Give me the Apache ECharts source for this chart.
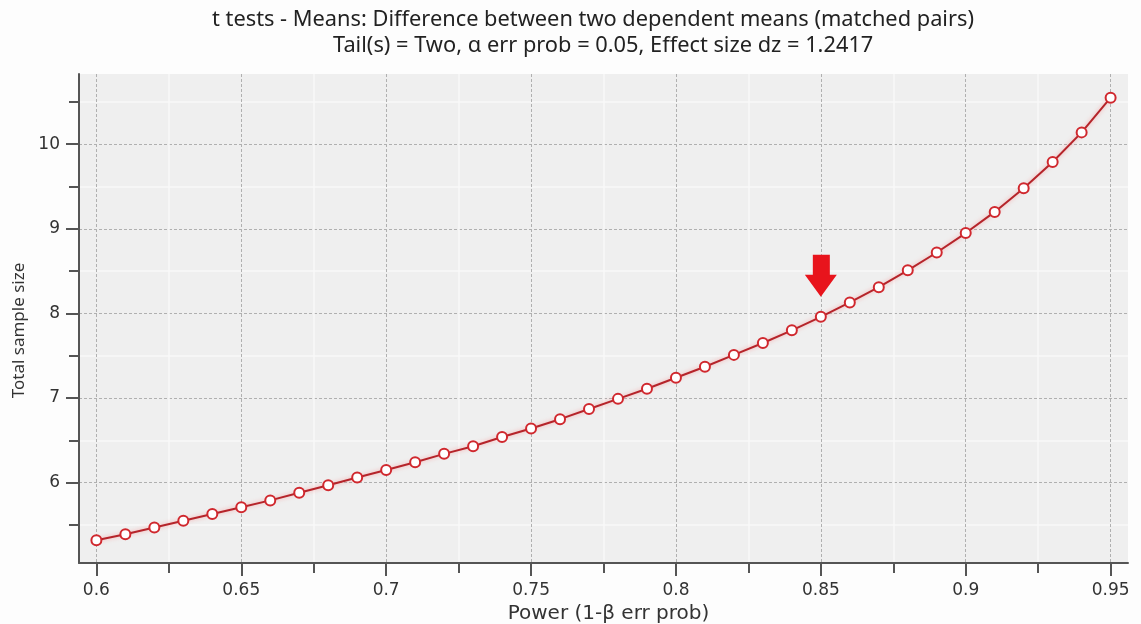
<!DOCTYPE html>
<html>
<head>
<meta charset="utf-8">
<script src="https://cdn.jsdelivr.net/npm/echarts@6/dist/echarts.min.js"></script>
<style>
html,body{margin:0;padding:0;background:#fdfdfd;}
#c{width:1141px;height:624px;}
</style>
</head>
<body>
<div id="c"></div>
<script>
const powers = [0.60,0.61,0.62,0.63,0.64,0.65,0.66,0.67,0.68,0.69,0.70,0.71,0.72,0.73,0.74,0.75,0.76,0.77,0.78,0.79,0.80,0.81,0.82,0.83,0.84,0.85,0.86,0.87,0.88,0.89,0.90,0.91,0.92,0.93,0.94,0.95];
const sampleSizes = [5.32,5.39,5.47,5.55,5.63,5.71,5.79,5.88,5.97,6.06,6.15,6.24,6.34,6.43,6.54,6.64,6.75,6.87,6.99,7.11,7.24,7.37,7.51,7.65,7.80,7.96,8.13,8.31,8.51,8.72,8.95,9.20,9.48,9.79,10.14,10.55];
const xTicks = [0.6,0.65,0.7,0.75,0.8,0.85,0.9,0.95];
const xMinorTicks = [0.625,0.675,0.725,0.775,0.825,0.875,0.925];
const yTicks = [6,7,8,9,10];
const yMinorTicks = [5.5,6.5,7.5,8.5,9.5,10.5];
const highlightPower = 0.85;
const highlightSize = 7.96;
const titleText = 't tests - Means: Difference between two dependent means (matched pairs)';
const subtitleText = 'Tail(s) = Two, \u03b1 err prob = 0.05, Effect size dz = 1.2417';
const xName = 'Power (1-\u03b2 err prob)';
const yName = 'Total sample size';

const X_MIN = 0.594, X_MAX = 0.956, Y_MIN = 5.05, Y_MAX = 10.83;
const labelFont = "'DejaVu Sans', Verdana, sans-serif";
const textFont = "'Noto Sans', 'Open Sans', sans-serif";

const chart = echarts.init(document.getElementById('c'), null, {renderer:'canvas'});

function majorX(){
  return {
    type:'value', min:X_MIN, max:X_MAX, position:'bottom', gridIndex:0,
    name:xName, nameLocation:'middle', nameGap:37,
    nameTextStyle:{fontFamily:labelFont, fontSize:20, color:'#333', padding:[0,0,0,10]},
    axisLine:{show:true, onZero:false, lineStyle:{color:'#555', width:2}},
    axisTick:{show:true, length:13, customValues:xTicks, lineStyle:{color:'#555', width:2}},
    axisLabel:{show:true, customValues:xTicks, margin:19, fontFamily:labelFont, fontSize:17, color:'#333',
      formatter:v=>String(v)},
    splitLine:{show:true, lineStyle:{color:'#b0b0b0', type:[3,2], width:1}}
  };
}
function minorX(){
  return {
    type:'value', min:X_MIN, max:X_MAX, position:'bottom', gridIndex:0,
    axisLine:{show:false, onZero:false},
    axisTick:{show:true, length:10, customValues:xMinorTicks, lineStyle:{color:'#555', width:2}},
    axisLabel:{show:false, customValues:xMinorTicks},
    splitLine:{show:true, lineStyle:{color:'#f9f9f9', width:1.5}}
  };
}
function majorY(){
  return {
    type:'value', min:Y_MIN, max:Y_MAX, position:'left', gridIndex:0,
    name:yName, nameLocation:'middle', nameGap:50,
    nameTextStyle:{fontFamily:textFont, fontSize:17, color:'#333', padding:[0,24,0,0]},
    axisLine:{show:true, onZero:false, lineStyle:{color:'#555', width:2}},
    axisTick:{show:true, length:13, customValues:yTicks, lineStyle:{color:'#555', width:2}},
    axisLabel:{show:true, customValues:yTicks, margin:19, fontFamily:labelFont, fontSize:17, color:'#333'},
    splitLine:{show:true, lineStyle:{color:'#b0b0b0', type:[3,2], width:1}}
  };
}
function minorY(){
  return {
    type:'value', min:Y_MIN, max:Y_MAX, position:'left', gridIndex:0,
    axisLine:{show:false, onZero:false},
    axisTick:{show:true, length:10, customValues:yMinorTicks, lineStyle:{color:'#555', width:2}},
    axisLabel:{show:false, customValues:yMinorTicks},
    splitLine:{show:true, lineStyle:{color:'#f9f9f9', width:1.5}}
  };
}

const option = {
  backgroundColor:'#fdfdfd',
  animation:false,
  title:[
    {text:titleText, left:212, top:9, padding:0,
     textStyle:{fontFamily:textFont, fontSize:21.8, fontWeight:'normal', color:'#222'}},
    {text:subtitleText, left:333, top:35, padding:0,
     textStyle:{fontFamily:textFont, fontSize:21.8, fontWeight:'normal', color:'#222'}}
  ],
  grid:{left:79, right:13, top:74, bottom:61, show:true, backgroundColor:'#efefef', borderWidth:0,
    containLabel:false, outerBoundsMode:'none'},
  xAxis:[minorX(), majorX()],
  yAxis:[minorY(), majorY()],
  series:[{
    type:'line',
    xAxisIndex:1, yAxisIndex:1,
    data:powers.map((p,i)=>[p, sampleSizes[i]]),
    symbol:'circle', symbolSize:10,
    lineStyle:{color:'#b5242a', width:2, shadowColor:'rgba(255,110,110,0.55)', shadowBlur:4},
    itemStyle:{color:'#ffffff', borderColor:'#d0282e', borderWidth:2},
    markPoint:{
      symbol:'path://M8,0 L25,0 L25,20 L32,20 L16,42 L0,20 L8,20 Z',
      symbolSize:[32,42], symbolOffset:[0,-41], symbolKeepAspect:false,
      itemStyle:{color:'#e8141c', borderWidth:0},
      label:{show:false},
      data:[{coord:[highlightPower, highlightSize]}]
    },
    z:5
  }]
};
chart.setOption(option);
</script>
</body>
</html>
